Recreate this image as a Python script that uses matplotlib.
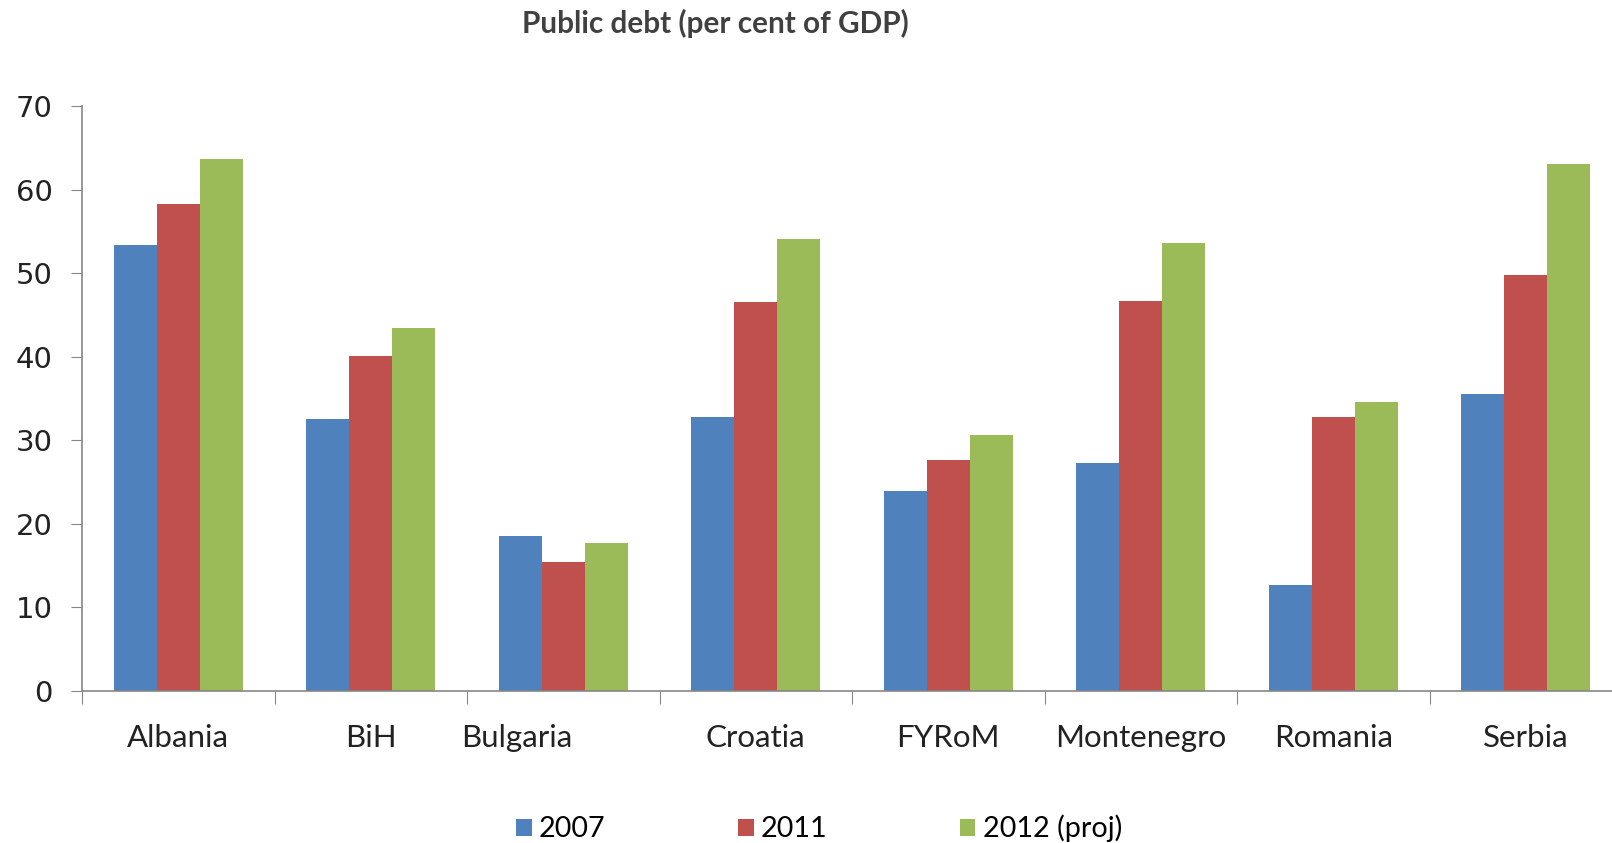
import matplotlib.pyplot as plt
import matplotlib.transforms as mtransforms
from matplotlib.patches import Patch
import numpy as np

paises = ["Albania", "BiH", "Bulgaria", "Croatia", "FYRoM",
          "Montenegro", "Romania", "Serbia"]
deuda_2007 = [53.4, 32.6, 18.5, 32.8, 23.9, 27.3, 12.7, 35.5]
deuda_2011 = [58.3, 40.1, 15.4, 46.5, 27.6, 46.7, 32.8, 49.8]
deuda_2012 = [63.6, 43.4, 17.7, 54.1, 30.6, 53.6, 34.6, 63.0]
series = ["2007", "2011", "2012 (proj)"]
colores = ["#4F81BD", "#C0504D", "#9BBB59"]

plt.rcParams["font.family"] = ["Lato", "DejaVu Sans"]

fig = plt.figure(figsize=(16.12, 8.43), dpi=100)
ax = fig.add_axes([0.0509, 0.1803, 0.9553, 0.694])

x = np.arange(len(paises))
ancho = 0.224
for i, (vals, col) in enumerate(zip([deuda_2007, deuda_2011, deuda_2012], colores)):
    ax.bar(x + (i - 1) * ancho, vals, ancho, color=col, linewidth=0)

ax.set_xlim(-0.5, len(paises) - 0.5)
ax.set_ylim(0, 70)
ax.set_yticks(range(0, 71, 10))
ax.set_yticklabels([str(v) for v in range(0, 71, 10)],
                   fontsize=21, family="DejaVu Sans", color="#222222")

# ticks mayores en los bordes de categoria, etiquetas en el centro
ax.set_xticks(np.arange(-0.5, len(paises), 1.0))
ax.set_xticklabels([])
ax.set_xticks(x, minor=True)
etiquetas = ax.set_xticklabels(paises, minor=True, fontsize=22.5, color="#222222")
ax.tick_params(axis="x", which="minor", length=0, pad=24)
ax.tick_params(axis="x", which="major", length=9.5, color="#868686")
ax.tick_params(axis="y", length=8, color="#868686", pad=13)

# la etiqueta de Bulgaria va corrida a la izquierda
desplaza = mtransforms.ScaledTranslation(-0.47, 0, fig.dpi_scale_trans)
etiquetas[2].set_transform(etiquetas[2].get_transform() + desplaza)

for lado in ["top", "right"]:
    ax.spines[lado].set_visible(False)
for lado in ["left", "bottom"]:
    ax.spines[lado].set_color("#868686")
    ax.spines[lado].set_linewidth(1.2)

fig.text(0.4435, 0.972, "Public debt (per cent of GDP)", ha="center", va="center",
         fontsize=21.4, fontweight="bold", color="#404040")

handles = [Patch(facecolor=c, edgecolor="none") for c in colores]
fig.legend(handles, series, loc="center", bbox_to_anchor=(0.508, 0.017),
           ncol=3, frameon=False, fontsize=20.7, handlelength=0.55,
           handleheight=0.55, handletextpad=0.25, columnspacing=4.6)

plt.savefig("out.png", dpi=100)
plt.close(fig)
